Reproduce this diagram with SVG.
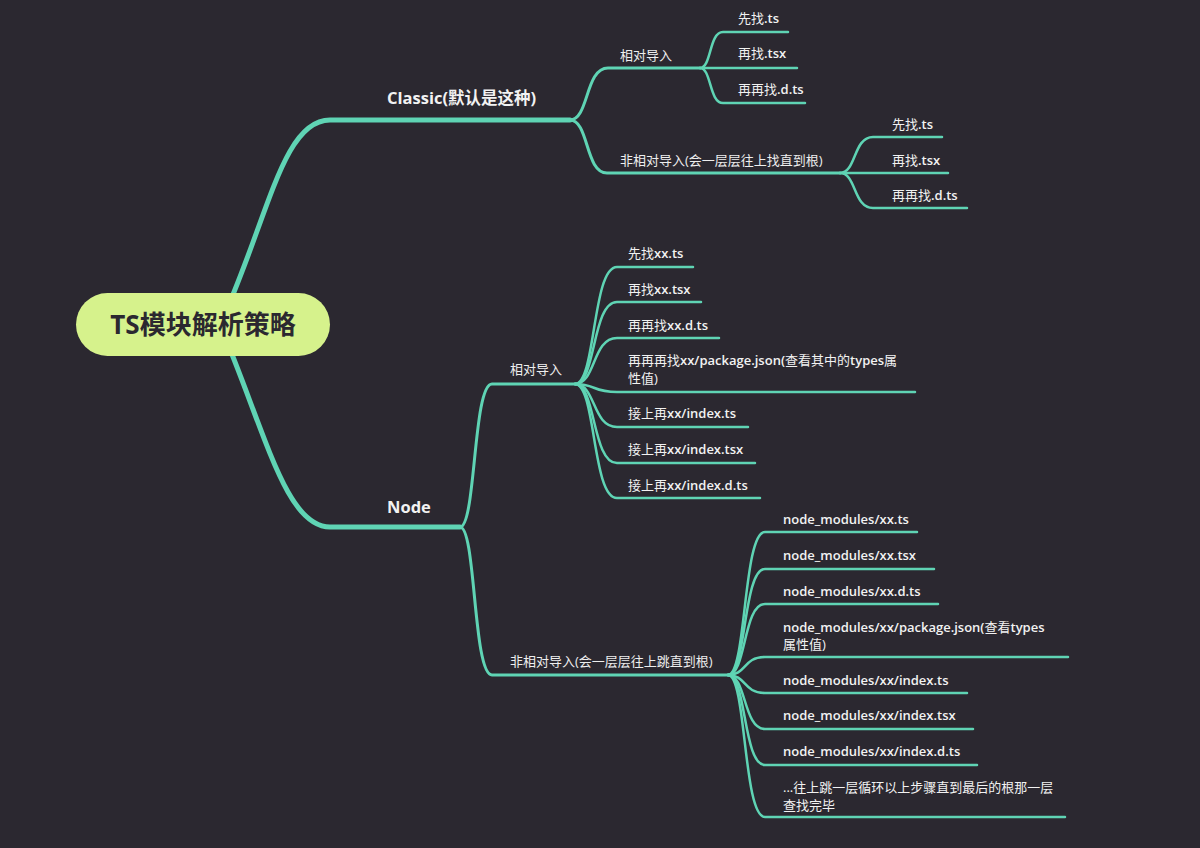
<svg xmlns="http://www.w3.org/2000/svg" width="1200" height="848" viewBox="0 0 1200 848">
<style>
.bg{fill:#2b2830}
.c{fill:none;stroke:#5fd4b4;stroke-linecap:round;stroke-linejoin:round}
.m{stroke-width:5}
.s{stroke-width:3}
.l{stroke-width:2.5}
.t1{font-family:"Open Sans","Noto Sans CJK SC",sans-serif;font-size:16.5px;font-weight:700;fill:#f2f2f2}
.t2{font-family:"Open Sans","Noto Sans CJK SC",sans-serif;font-size:13px;font-weight:400;fill:#eeeeee}
.t3{font-family:"Open Sans","Noto Sans CJK SC",sans-serif;font-size:13px;font-weight:400;fill:#f2f2f2}
.b{font-weight:600}
.root{font-family:"Open Sans","Noto Sans CJK SC",sans-serif;font-size:26px;font-weight:700;fill:#2b2830}
</style>
<rect class="bg" x="0" y="0" width="1200" height="848"/>
<g id="connectors">
<path class="c m" d="M220 325 C268 220 282 120 330 120 H570"/>
<path class="c m" d="M220 325 C265 430 285 527 330 527 H460"/>
<path class="c s" d="M570 120 C589 120 585 68 608 68 H700"/>
<path class="c s" d="M570 120 C589 120 585 173 607 173 H840"/>
<path class="c l" d="M700 68 C711.5 68 709 32 723 32 H788"/>
<path class="c l" d="M700 68 H797"/>
<path class="c l" d="M700 68 C711.5 68 709 103 723 103 H805"/>
<path class="c l" d="M840 173 C856.5 173 853 137 873 137 H942"/>
<path class="c l" d="M840 173 H948"/>
<path class="c l" d="M840 173 C856.5 173 853 208 873 208 H967"/>
<path class="c s" d="M460 527 C476 527 473 384 492 384 H575"/>
<path class="c s" d="M460 527 C476 527 473 675 492 675 H728"/>
<path class="c l" d="M575 384 C596 384 592 267 617 267 H693"/>
<path class="c l" d="M575 384 C596 384 592 302 617 302 H701"/>
<path class="c l" d="M575 384 C596 384 592 338 617 338 H719"/>
<path class="c l" d="M575 384 C596 384 592 392 617 392 H915"/>
<path class="c l" d="M575 384 C596 384 592 427 617 427 H748"/>
<path class="c l" d="M575 384 C596 384 592 463 617 463 H755"/>
<path class="c l" d="M575 384 C596 384 592 498 617 498 H760"/>
<path class="c l" d="M728 675 C746.5 675 743 532 765 532 H917"/>
<path class="c l" d="M728 675 C746.5 675 743 569 765 569 H934"/>
<path class="c l" d="M728 675 C746.5 675 743 604 765 604 H938"/>
<path class="c l" d="M728 675 C746.5 675 743 657 765 657 H1068"/>
<path class="c l" d="M728 675 C746.5 675 743 693 765 693 H967"/>
<path class="c l" d="M728 675 C746.5 675 743 729 765 729 H973"/>
<path class="c l" d="M728 675 C746.5 675 743 765 765 765 H977"/>
<path class="c l" d="M728 675 C746.5 675 743 817 765 817 H1065"/>
</g>
<g id="root">
<rect x="76" y="293" width="254" height="63" rx="31.5" fill="#d6f28c"/>
<text class="root" x="203" y="334" text-anchor="middle">TS模块解析策略</text>
</g>
<g id="classic"><text class="t1" x="387" y="104">Classic(默认是这种)</text></g>
<g id="classic-rel"><text class="t2" x="620" y="60">相对导入</text></g>
<g id="classic-rel-1"><text class="t3" x="738" y="23">先找<tspan class="b">.ts</tspan></text></g>
<g id="classic-rel-2"><text class="t3" x="738" y="58">再找<tspan class="b">.tsx</tspan></text></g>
<g id="classic-rel-3"><text class="t3" x="738" y="94">再再找<tspan class="b">.d.ts</tspan></text></g>
<g id="classic-nonrel"><text class="t2" x="620" y="165">非相对导入(会一层层往上找直到根)</text></g>
<g id="classic-nonrel-1"><text class="t3" x="892" y="129">先找<tspan class="b">.ts</tspan></text></g>
<g id="classic-nonrel-2"><text class="t3" x="892" y="165">再找<tspan class="b">.tsx</tspan></text></g>
<g id="classic-nonrel-3"><text class="t3" x="892" y="200">再再找<tspan class="b">.d.ts</tspan></text></g>
<g id="node"><text class="t1" x="387" y="513">Node</text></g>
<g id="node-rel"><text class="t2" x="510" y="374">相对导入</text></g>
<g id="node-rel-1"><text class="t3" x="628" y="258">先找<tspan class="b">xx.ts</tspan></text></g>
<g id="node-rel-2"><text class="t3" x="628" y="294">再找<tspan class="b">xx.tsx</tspan></text></g>
<g id="node-rel-3"><text class="t3" x="628" y="330">再再找<tspan class="b">xx.d.ts</tspan></text></g>
<g id="node-rel-4"><text class="t3" x="628" y="365">再再再找<tspan class="b">xx/package.json(</tspan>查看其中的<tspan class="b">types</tspan>属</text><text class="t3" x="628" y="383">性值)</text></g>
<g id="node-rel-5"><text class="t3" x="628" y="418">接上再<tspan class="b">xx/index.ts</tspan></text></g>
<g id="node-rel-6"><text class="t3" x="628" y="454">接上再<tspan class="b">xx/index.tsx</tspan></text></g>
<g id="node-rel-7"><text class="t3" x="628" y="490">接上再<tspan class="b">xx/index.d.ts</tspan></text></g>
<g id="node-nonrel"><text class="t2" x="510" y="666">非相对导入(会一层层往上跳直到根)</text></g>
<g id="node-nonrel-1"><text class="t3 b" x="783" y="524">node_modules/xx.ts</text></g>
<g id="node-nonrel-2"><text class="t3 b" x="783" y="560">node_modules/xx.tsx</text></g>
<g id="node-nonrel-3"><text class="t3 b" x="783" y="596">node_modules/xx.d.ts</text></g>
<g id="node-nonrel-4"><text class="t3" x="783" y="632"><tspan class="b">node_modules/xx/package.json(</tspan>查看<tspan class="b">types</tspan></text><text class="t3" x="783" y="649">属性值)</text></g>
<g id="node-nonrel-5"><text class="t3 b" x="783" y="685">node_modules/xx/index.ts</text></g>
<g id="node-nonrel-6"><text class="t3 b" x="783" y="720">node_modules/xx/index.tsx</text></g>
<g id="node-nonrel-7"><text class="t3 b" x="783" y="756">node_modules/xx/index.d.ts</text></g>
<g id="node-nonrel-8"><text class="t3" x="783" y="792">...往上跳一层循环以上步骤直到最后的根那一层</text><text class="t3" x="783" y="810">查找完毕</text></g>
</svg>
